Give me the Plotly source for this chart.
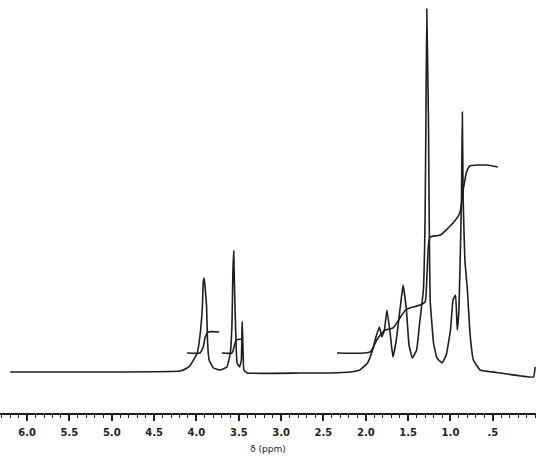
import plotly.graph_objects as go

# Spectrum trace: chemical shift (ppm) and intensity (arbitrary units)
spec_ppm = [6.20, 5.14, 4.19, 4.11, 4.07, 3.99, 3.96, 3.93, 3.92, 3.91, 3.90, 3.88, 3.87, 3.85,
            3.80, 3.72, 3.64, 3.60, 3.58, 3.57, 3.56, 3.55, 3.53, 3.52, 3.49, 3.47, 3.46, 3.45,
            3.44, 3.40, 2.77, 2.42, 2.18, 2.07, 1.98, 1.92, 1.88, 1.84, 1.81, 1.78, 1.75, 1.71,
            1.68, 1.64, 1.59, 1.56, 1.52, 1.49, 1.45, 1.40, 1.36, 1.32, 1.30, 1.29, 1.28, 1.26,
            1.25, 1.24, 1.20, 1.16, 1.10, 1.05, 1.00, 0.97, 0.94, 0.92, 0.90, 0.87, 0.86, 0.85,
            0.83, 0.80, 0.77, 0.73, 0.65, 0.41, 0.02, 0.00]
spec_int = [41, 41, 42, 45, 48, 60, 76, 106, 131, 135, 128, 106, 73, 53,
            45, 43, 46, 60, 90, 140, 162, 123, 63, 50, 46, 53, 91, 63,
            43, 40, 40, 40, 41, 43, 50, 63, 76, 86, 76, 83, 103, 78,
            56, 73, 108, 128, 103, 68, 55, 63, 93, 123, 193, 293, 404, 293,
            183, 113, 70, 55, 50, 58, 83, 113, 118, 83, 103, 213, 301, 213,
            153, 123, 80, 53, 43, 40, 36, 46]

# Integral curves
int1_ppm = [4.11, 3.96, 3.92, 3.90, 3.86, 3.73]
int1_val = [60, 60, 66, 75, 81, 81]
int2_ppm = [3.70, 3.58, 3.55, 3.53, 3.46]
int2_val = [60, 60, 68, 73, 74]
int3_ppm = [2.34, 1.95, 1.87, 1.81, 1.77, 1.68, 1.59, 1.53, 1.48, 1.36, 1.30, 1.28, 1.26,
            1.24, 1.12, 0.97, 0.89, 0.85, 0.81, 0.77, 0.57, 0.44]
int3_val = [60, 61, 73, 80, 83, 85, 96, 103, 105, 108, 111, 133, 168,
            176, 178, 190, 200, 223, 241, 247, 248, 246]

tick_vals = [6.0, 5.5, 5.0, 4.5, 4.0, 3.5, 3.0, 2.5, 2.0, 1.5, 1.0, 0.5]
tick_text = ["6.0", "5.5", "5.0", "4.5", "4.0", "3.5", "3.0", "2.5", "2.0", "1.5", "1.0", ".5"]

ink = "#1e1e1e"
fig = go.Figure()
fig.add_trace(go.Scatter(x=spec_ppm, y=spec_int, mode="lines", hoverinfo="skip",
                         line=dict(color=ink, width=1.6, shape="spline", smoothing=0.3)))
for xs, ys in [(int1_ppm, int1_val), (int2_ppm, int2_val), (int3_ppm, int3_val)]:
    fig.add_trace(go.Scatter(x=xs, y=ys, mode="lines", hoverinfo="skip",
                             line=dict(color=ink, width=1.6, shape="spline", smoothing=0.5)))

fig.update_layout(
    width=536, height=462,
    margin=dict(l=0, r=0, t=0, b=49, autoexpand=False),
    paper_bgcolor="white", plot_bgcolor="white",
    showlegend=False,
    xaxis=dict(
        range=[6.32, -0.01], showgrid=False, zeroline=False,
        showline=True, linecolor=ink, linewidth=1.5,
        tickmode="array", tickvals=tick_vals, ticktext=tick_text,
        ticks="outside", ticklen=6, tickwidth=1.5, tickcolor=ink,
        minor=dict(dtick=0.1, ticks="outside", ticklen=3, tickwidth=1, tickcolor=ink),
        tickfont=dict(family="DejaVu Sans", size=10, color="#222", weight="bold"),
        ticklabelstandoff=3,
        title=dict(text="δ (ppm)", font=dict(family="DejaVu Sans", size=9, color="#222"),
                   standoff=9),
    ),
    yaxis=dict(range=[0, 413], visible=False),
)
fig.write_html("out.html", config={"displayModeBar": False},
               post_script="document.body.style.margin='0';")
